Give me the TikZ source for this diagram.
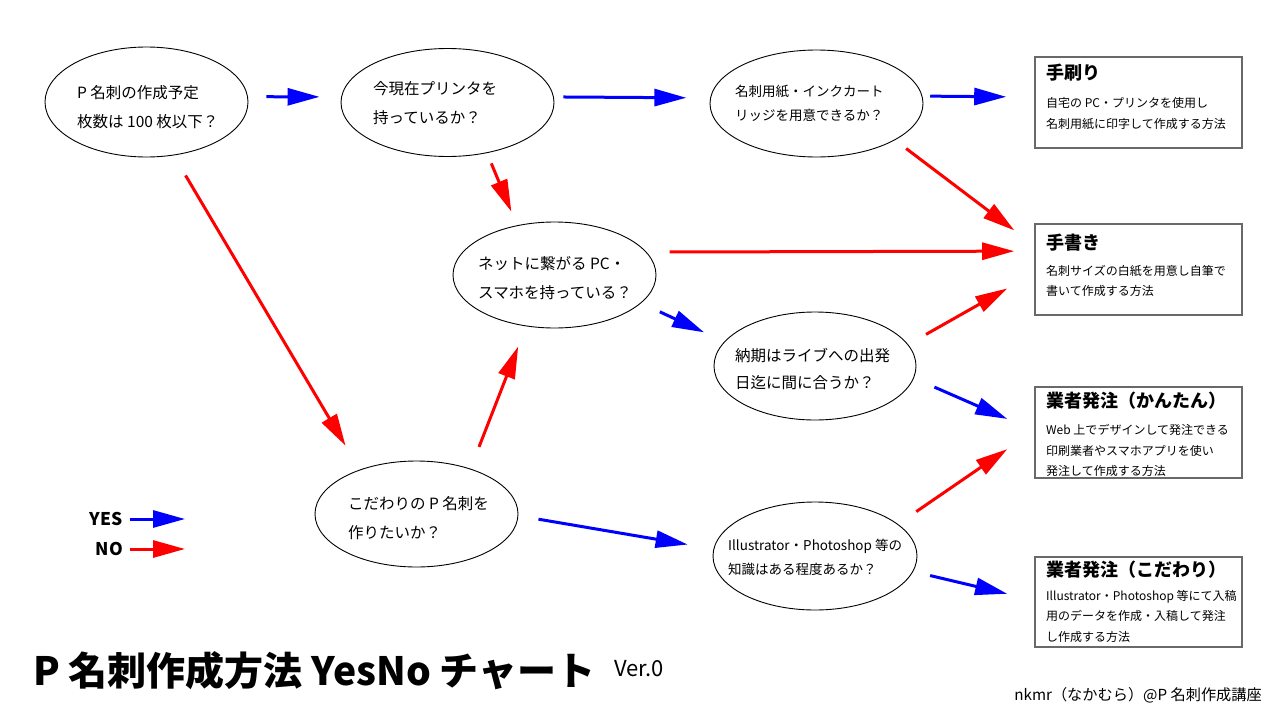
\documentclass[tikz,border=0pt]{standalone}
\usepackage{fontspec}
\setmainfont{Noto Sans CJK JP}
\usetikzlibrary{arrows.meta,shapes.geometric}
\definecolor{yesblue}{RGB}{0,0,255}
\definecolor{nored}{RGB}{255,0,0}
\definecolor{boxgray}{RGB}{105,105,105}
\begin{document}
\begin{tikzpicture}[x=1pt,y=-1pt,
  q/.style={draw=black, line width=0.9pt, ellipse, inner sep=0pt},
  qt/.style={anchor=west, inner sep=0pt, align=left, font=\fontsize{15.5}{29}\selectfont},
  qts/.style={anchor=west, inner sep=0pt, align=left, font=\fontsize{13.5}{24}\selectfont},
  res/.style={draw=boxgray, line width=1.6pt, rectangle, minimum width=207pt, inner sep=0pt},
  rtitle/.style={anchor=west, inner sep=0pt, font=\bfseries\fontsize{18}{22}\selectfont},
  rbody/.style={anchor=west, inner sep=0pt, align=left, font=\fontsize{12}{20.5}\selectfont},
  arr/.style={line width=3pt, -{Triangle[length=32pt,width=17pt]}},
  yes/.style={arr, yesblue},
  no/.style={arr, nored}
]
\useasboundingbox[fill=white] (0,0) rectangle (1280,720);

% questions
\node[q, minimum width=203pt, minimum height=110pt] (e1) at (146.5,102) {};
\node[qt] (e1t) at (77,107) {P 名刺の作成予定\\枚数は 100 枚以下？};
\node[q, minimum width=213pt, minimum height=108pt] (e2) at (447.5,102.5) {};
\node[qt] (e2t) at (373,103) {今現在プリンタを\\持っているか？};
\node[q, minimum width=213pt, minimum height=107pt] (e3) at (816.5,103.5) {};
\node[qts] (e3t) at (735,103.5) {名刺用紙・インクカート\\リッジを用意できるか？};
\node[q, minimum width=203pt, minimum height=106pt] (e4) at (554.5,275) {};
\node[qt] (e4t) at (478,278) {ネットに繋がる PC・\\スマホを持っている？};
\node[q, minimum width=202pt, minimum height=108pt] (e5) at (815,366) {};
\node[qt, font=\fontsize{15.5}{27}\selectfont] (e5t) at (735,368.5) {納期はライブへの出発\\日迄に間に合うか？};
\node[q, minimum width=203pt, minimum height=106pt] (e6) at (416.5,514) {};
\node[qt] (e6t) at (348,518) {こだわりの P 名刺を\\作りたいか？};
\node[q, minimum width=204pt, minimum height=108pt] (e7) at (815,556) {};
\node[qts] (e7t) at (728,557.5) {Illustrator・Photoshop 等の\\知識はある程度あるか？};

% results
\node[res, minimum height=91pt] (b1) at (1138.5,102.5) {};
\node[rtitle] (b1t) at (1046,73) {手刷り};
\node[rbody] (b1b) at (1046,113.5) {自宅の PC・プリンタを使用し\\名刺用紙に印字して作成する方法};
\node[res, minimum height=91pt] (b2) at (1138.5,269.5) {};
\node[rtitle] (b2t) at (1046,243) {手書き};
\node[rbody] (b2b) at (1046,281) {名刺サイズの白紙を用意し自筆で\\書いて作成する方法};
\node[res, minimum height=91pt] (b3) at (1138.5,432.5) {};
\node[rtitle] (b3t) at (1046,401) {業者発注（かんたん）};
\node[rbody] (b3b) at (1046,450.5) {Web 上でデザインして発注できる\\印刷業者やスマホアプリを使い\\発注して作成する方法};
\node[res, minimum height=90pt] (b4) at (1138.5,602) {};
\node[rtitle] (b4t) at (1046,570) {業者発注（こだわり）};
\node[rbody] (b4b) at (1046,616) {Illustrator・Photoshop 等にて入稿\\用のデータを作成・入稿して発注\\し作成する方法};

% connectors
\draw[yes, shorten <=18.4pt, shorten >=21.6pt] (e1.3) -- (e2.177);
\draw[yes, shorten <=9.6pt, shorten >=23.8pt] (e2.3) -- (e3.177);
\draw[yes, shorten <=7.8pt, shorten >=28pt] (e3.4) -- (b1.177);
\draw[no, shorten <=13.9pt, shorten >=25pt] (e3.-25) -- (b2.167);
\draw[no, shorten <=11.1pt, shorten >=14.8pt] (e2.-52) -- (e4.127);
\draw[no, shorten <=23pt, shorten >=20pt] (e4.14) -- (b2.170);
\draw[yes, shorten <=20.6pt, shorten >=22.25pt] (e4.-18) -- (e5.165);
\draw[no, shorten <=20.5pt, shorten >=31.1pt] (e5.13) -- (b2.182);
\draw[yes, shorten <=22.4pt, shorten >=29.4pt] (e5.-7) -- (b3.179);
\draw[no, shorten <=23.2pt, shorten >=27.8pt] (e1.-63) -- (e6.142);
\draw[no, shorten <=23.4pt, shorten >=21.65pt] (e6.40) -- (e4.-119);
\draw[yes, shorten <=20.4pt, shorten >=26.15pt] (e6.-1) -- (e7.176);
\draw[no, shorten <=22.1pt, shorten >=32.7pt] (e7.21) -- (b3.179);
\draw[yes, shorten <=17.4pt, shorten >=27.8pt] (e7.-9) -- (b4.179);

% legend
\node[anchor=east, inner sep=0pt, font=\bfseries\fontsize{17.5}{20}\selectfont] (legyes) at (123,519) {YES};
\coordinate (legyesend) at (185,519);
\draw[yes, shorten <=7pt] (legyes.east) -- (legyesend);
\node[anchor=east, inner sep=0pt, font=\bfseries\fontsize{17.5}{20}\selectfont] (legno) at (123,549) {NO};
\coordinate (legnoend) at (185,549);
\draw[no, shorten <=7pt] (legno.east) -- (legnoend);

% title and credit
\node[anchor=west, inner sep=0pt, font=\bfseries\fontsize{39}{45}\selectfont] (title) at (33,671) {P 名刺作成方法 YesNo チャート};
\node[anchor=west, inner sep=0pt, font=\fontsize{22}{26}\selectfont] (ver) at (614,669) {Ver.0};
\node[anchor=east, inner sep=0pt, font=\fontsize{15.2}{18}\selectfont] (credit) at (1262,695) {nkmr（なかむら）@P 名刺作成講座};
\end{tikzpicture}
\end{document}
